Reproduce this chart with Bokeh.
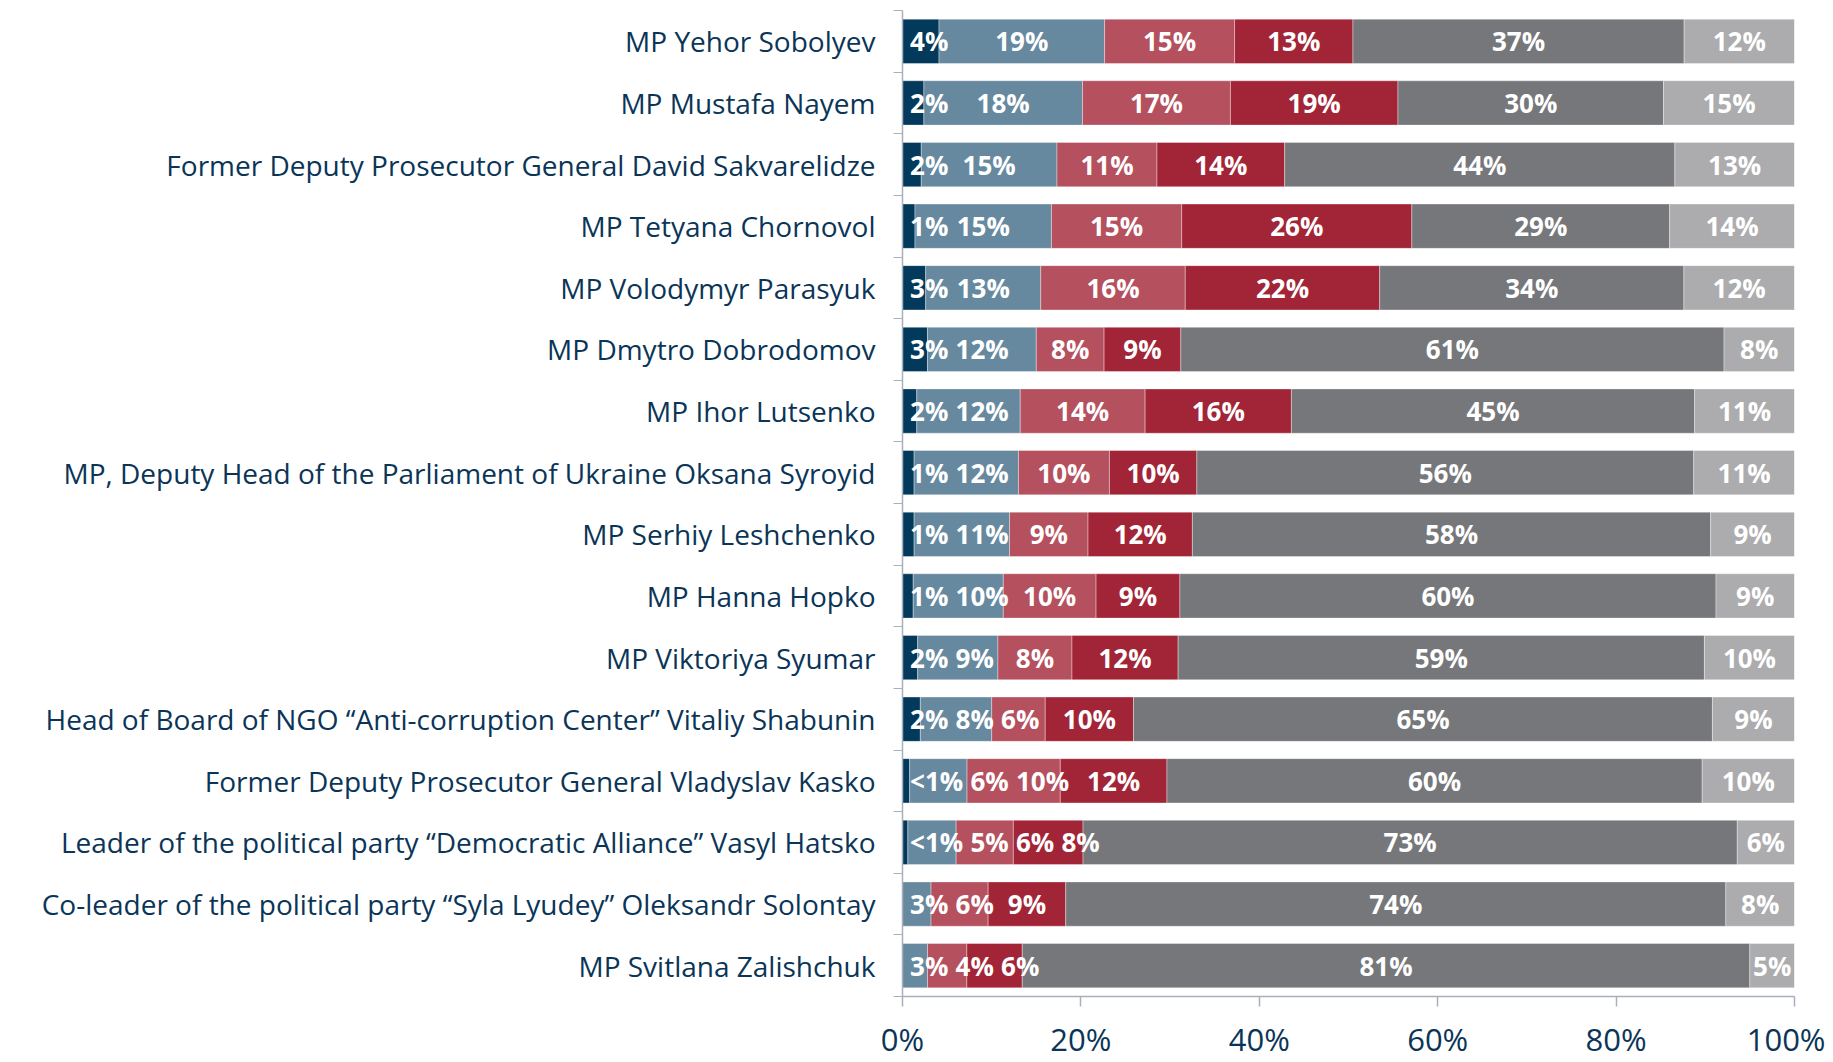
from bokeh.plotting import figure
from bokeh.models import Range1d, FixedTicker, PrintfTickFormatter, ColumnDataSource
from bokeh.embed import file_html
from bokeh.resources import INLINE
from bokeh.core.properties import value

names = [
    "MP Yehor Sobolyev",
    "MP Mustafa Nayem",
    "Former Deputy Prosecutor General David Sakvarelidze",
    "MP Tetyana Chornovol",
    "MP Volodymyr Parasyuk",
    "MP Dmytro Dobrodomov",
    "MP Ihor Lutsenko",
    "MP, Deputy Head of the Parliament of Ukraine Oksana Syroyid",
    "MP Serhiy Leshchenko",
    "MP Hanna Hopko",
    "MP Viktoriya Syumar",
    "Head of Board of NGO \u201cAnti-corruption Center\u201d Vitaliy Shabunin",
    "Former Deputy Prosecutor General Vladyslav Kasko",
    "Leader of the political party \u201cDemocratic Alliance\u201d Vasyl Hatsko",
    "Co-leader of the political party \u201cSyla Lyudey\u201d Oleksandr Solontay",
    "MP Svitlana Zalishchuk",
]

navy = [4.1, 2.4, 2.1, 1.4, 2.6, 2.8, 1.6, 1.3, 1.3, 1.2, 1.7, 2.0, 0.8, 0.6, 0, 0]
steel = [18.6, 17.8, 15.2, 15.3, 12.9, 12.2, 11.6, 11.7, 10.7, 10.1, 9.0, 8.0, 6.4, 5.4, 3.2, 2.8]
rose = [14.6, 16.6, 11.2, 14.6, 16.2, 7.6, 14.0, 10.2, 8.8, 10.4, 8.3, 6.0, 10.4, 6.4, 6.4, 4.4]
crimson = [13.3, 18.8, 14.3, 25.8, 21.8, 8.6, 16.4, 9.8, 11.7, 9.4, 11.9, 9.9, 11.9, 7.8, 8.7, 6.2]
gray = [37.2, 29.8, 43.7, 28.9, 34.1, 60.9, 45.2, 55.7, 58.1, 60.1, 59.0, 64.9, 59.7, 73.2, 74.0, 81.4]
light = [12.4, 14.7, 13.4, 14.0, 12.4, 7.9, 11.2, 11.3, 9.4, 8.8, 10.1, 9.2, 10.3, 6.4, 7.7, 5.0]

series = [navy, steel, rose, crimson, gray, light]
colors = ["#033a5c", "#67899f", "#b5505e", "#a22537", "#76777b", "#acacae"]
x_ticks = [0, 20, 40, 60, 80, 100]

TXT = "#0b3557"
AX = "#a8b0bb"
LABEL_FONT = "Open Sans"

p = figure(width=1825, height=1062, output_backend="svg", toolbar_location=None,
           x_range=Range1d(0, 100), y_range=Range1d(len(names), 0),
           min_border_left=902, min_border_right=31, min_border_top=10, min_border_bottom=55)
p.outline_line_color = None
p.xgrid.visible = False
p.ygrid.visible = False

n = len(names)
totals = [sum(s[i] for s in series) for i in range(n)]
ys = [i + 0.5 for i in range(n)]

# label width estimate (in % units) for Open Sans Bold 26px: ~8.93 px per %
PX_PER_PCT = 8.93
def text_w(t):
    w = 0
    for ch in t:
        w += 22.6 if ch == "%" else 14.9
    return w / PX_PER_PCT

lx, ly, lt = [], [], []
left = [0.0] * n
for k, s in enumerate(series):
    rights = []
    for i in range(n):
        rights.append(left[i] + 100.0 * s[i] / totals[i])
    src = ColumnDataSource(dict(y=ys, left=list(left), right=rights))
    p.hbar(y="y", left="left", right="right", height=0.72, source=src,
           fill_color=colors[k], line_color="white", line_width=0.8, line_alpha=0.45)
    left = rights

# labels with simple left-to-right de-overlap
for i in range(n):
    start = 0.0
    prev_right = 0.0
    for k, s in enumerate(series):
        v = s[i]
        seg = 100.0 * v / totals[i]
        if v > 0:
            t = "<1%" if v < 1 else f"{round(v)}%"
            w = text_w(t)
            c = start + seg / 2
            x = max(c, prev_right + 0.9 + w / 2)
            prev_right = x + w / 2
            lx.append(x); ly.append(ys[i]); lt.append(t)
        start += seg

p.text(x=lx, y=ly, text=lt, text_color="white", text_font=value(LABEL_FONT),
       text_font_style="bold", text_font_size="26px", text_align="center",
       text_baseline="middle")

# y axis
p.yaxis.ticker = FixedTicker(ticks=ys, minor_ticks=list(range(n + 1)))
p.yaxis.major_label_overrides = {y: nm for y, nm in zip(ys, names)}
p.yaxis.major_tick_out = 0
p.yaxis.major_tick_in = 0
p.yaxis.minor_tick_out = 9
p.yaxis.minor_tick_in = 0
p.yaxis.minor_tick_line_color = AX
p.yaxis.axis_line_color = AX
p.yaxis.axis_line_width = 1.5
p.yaxis.major_label_standoff = 18
p.yaxis.major_label_text_font = LABEL_FONT
p.yaxis.major_label_text_font_size = "28px"
p.yaxis.major_label_text_color = TXT

# x axis
p.xaxis.ticker = FixedTicker(ticks=x_ticks)
p.xaxis.formatter = PrintfTickFormatter(format="%d%%")
p.xaxis.major_tick_out = 10
p.xaxis.major_tick_in = 0
p.xaxis.minor_tick_out = 0
p.xaxis.minor_tick_in = 0
p.xaxis.major_tick_line_color = AX
p.xaxis.major_tick_line_width = 1.5
p.xaxis.axis_line_color = AX
p.xaxis.axis_line_width = 1.5
p.xaxis.major_label_standoff = 11
p.xaxis.major_label_text_font = LABEL_FONT
p.xaxis.major_label_text_font_size = "31px"
p.xaxis.major_label_text_color = TXT

open("out.html", "w").write(file_html(p, INLINE))
